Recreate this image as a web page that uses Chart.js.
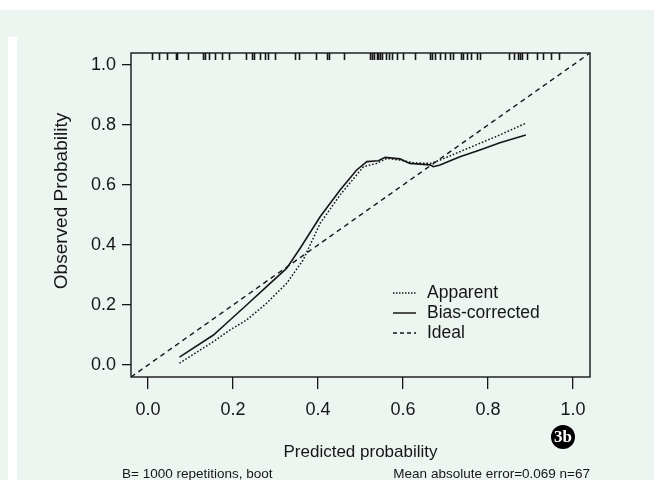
<!DOCTYPE html>
<html>
<head>
<meta charset="utf-8">
<script src="https://cdn.jsdelivr.net/npm/chart.js@4.4.1/dist/chart.umd.min.js"></script>
<style>
  html, body { margin: 0; padding: 0; }
  body { width: 654px; height: 480px; background: #edf5f0; position: relative; overflow: hidden; }
  #topStrip { position: absolute; left: 0; top: 0; width: 654px; height: 10px; background: #fff; }
  #sideStrip { position: absolute; left: 8px; top: 37px; width: 9px; height: 443px; background: #fff; }
  #wrap { position: absolute; left: 0; top: 0; width: 654px; height: 480px; }
</style>
</head>
<body>
<div id="topStrip"></div>
<div id="sideStrip"></div>
<div id="wrap"><canvas id="calib" width="654" height="480"></canvas></div>
<script>
// calibration curve (bootstrap)

const apparentX = [0.074, 0.154, 0.193, 0.232, 0.279, 0.326, 0.365, 0.405, 0.452, 0.507, 0.538, 0.562, 0.593, 0.624, 0.664, 0.687, 0.734, 0.781, 0.828, 0.889];
const apparentY = [0.006, 0.078, 0.117, 0.150, 0.206, 0.272, 0.350, 0.472, 0.567, 0.661, 0.672, 0.689, 0.683, 0.674, 0.672, 0.683, 0.711, 0.739, 0.767, 0.806];

const biasX = [0.074, 0.154, 0.193, 0.232, 0.279, 0.326, 0.358, 0.405, 0.452, 0.491, 0.515, 0.542, 0.558, 0.593, 0.616, 0.664, 0.671, 0.687, 0.734, 0.781, 0.828, 0.889];
const biasY = [0.026, 0.100, 0.150, 0.200, 0.261, 0.322, 0.389, 0.494, 0.583, 0.650, 0.678, 0.681, 0.692, 0.687, 0.672, 0.667, 0.661, 0.667, 0.694, 0.717, 0.741, 0.767];

const idealX = [-0.04, 1.04];
const idealY = [-0.04, 1.04];

// predicted probabilities shown as rug marks on top
const rugValues = [0.009, 0.026, 0.044, 0.066, 0.068, 0.095, 0.130, 0.135, 0.144, 0.158, 0.174, 0.191,
  0.230, 0.245, 0.249, 0.264, 0.275, 0.283, 0.299, 0.347, 0.355, 0.395, 0.422, 0.425, 0.462,
  0.522, 0.526, 0.532, 0.538, 0.542, 0.547, 0.551, 0.560, 0.568, 0.573, 0.585, 0.601, 0.628,
  0.664, 0.669, 0.675, 0.687, 0.699, 0.711, 0.718, 0.736, 0.740, 0.750, 0.759, 0.773, 0.781,
  0.850, 0.860, 0.871, 0.876, 0.881, 0.891, 0.915, 0.930, 0.948, 0.967];

const xTickValues = [0, 0.2, 0.4, 0.6, 0.8, 1.0];
const yTickValues = [0, 0.2, 0.4, 0.6, 0.8, 1.0];

const ink = "#161616";
const fontFam = "'Liberation Sans', Arial, sans-serif";

const toPoints = (xs, ys) => xs.map((x, i) => ({ x: x, y: ys[i] }));

// extra R-style bits: frame, rug, titles, legend, footer
const rExtras = {
  id: "rExtras",
  afterDraw(chart) {
    const { ctx, chartArea: a, scales } = chart;
    ctx.save();
    ctx.strokeStyle = ink;
    ctx.lineWidth = 1.4;
    ctx.strokeRect(a.left, a.top, a.right - a.left, a.bottom - a.top);

    // rug
    ctx.lineWidth = 1.6;
    ctx.beginPath();
    rugValues.forEach(v => {
      const px = Math.round(scales.x.getPixelForValue(v)) + 0.5;
      ctx.moveTo(px, a.top);
      ctx.lineTo(px, a.top + 7);
    });
    ctx.stroke();

    // axis titles
    ctx.fillStyle = ink;
    ctx.textAlign = "center";
    ctx.textBaseline = "middle";
    ctx.font = "17px " + fontFam;
    ctx.fillText("Predicted probability", (a.left + a.right) / 2, 452);
    ctx.save();
    ctx.translate(62, 201);
    ctx.rotate(-Math.PI / 2);
    ctx.font = "19px " + fontFam;
    ctx.fillText("Observed Probability", 0, 0);
    ctx.restore();

    // legend
    const order = [1, 2, 0];
    ctx.font = "17.5px " + fontFam;
    ctx.textAlign = "left";
    order.forEach((di, i) => {
      const ds = chart.data.datasets[di];
      const y = 293 + i * 20;
      ctx.save();
      ctx.lineWidth = 1.5;
      ctx.setLineDash(ds.legendDash);
      ctx.beginPath();
      ctx.moveTo(393, y);
      ctx.lineTo(416, y);
      ctx.stroke();
      ctx.restore();
      ctx.fillText(ds.label, 427, y);
    });

    // footer
    ctx.font = "13.5px " + fontFam;
    ctx.textBaseline = "alphabetic";
    ctx.fillText("B= 1000 repetitions, boot", 122, 478);
    ctx.textAlign = "right";
    ctx.fillText("Mean absolute error=0.069 n=67", 590, 478);

    // figure badge
    ctx.beginPath();
    ctx.arc(563, 437, 12, 0, Math.PI * 2);
    ctx.fillStyle = "#000";
    ctx.fill();
    ctx.fillStyle = "#fff";
    ctx.textAlign = "center";
    ctx.textBaseline = "middle";
    ctx.font = "bold 17px 'Liberation Serif', serif";
    ctx.fillText("3b", 563, 438);
    ctx.restore();
  }
};

new Chart(document.getElementById("calib").getContext("2d"), {
  type: "scatter",
  data: {
    datasets: [
      {
        label: "Ideal",
        data: toPoints(idealX, idealY),
        showLine: true,
        borderColor: ink,
        borderWidth: 1.4,
        borderDash: [5, 4],
        legendDash: [4, 3],
        pointRadius: 0
      },
      {
        label: "Apparent",
        data: toPoints(apparentX, apparentY),
        showLine: true,
        borderColor: ink,
        borderWidth: 1.5,
        borderDash: [1.6, 1.9],
        legendDash: [1.5, 1.5],
        pointRadius: 0
      },
      {
        label: "Bias-corrected",
        data: toPoints(biasX, biasY),
        showLine: true,
        borderColor: ink,
        borderWidth: 1.6,
        legendDash: [],
        pointRadius: 0
      }
    ]
  },
  options: {
    responsive: false,
    animation: false,
    layout: { padding: { left: 0, top: 53, right: 64, bottom: 0 } },
    plugins: {
      legend: { display: false },
      tooltip: { enabled: false }
    },
    scales: {
      x: {
        type: "linear",
        min: -0.04,
        max: 1.04,
        afterFit: s => { s.height = 103; },
        afterBuildTicks: s => { s.ticks = xTickValues.map(v => ({ value: v })); },
        grid: { drawOnChartArea: false, drawTicks: true, tickLength: 12, color: ink, lineWidth: 1.3 },
        border: { display: false },
        ticks: {
          color: ink,
          padding: 10,
          maxRotation: 0,
          font: { family: fontFam, size: 18 },
          callback: v => v.toFixed(1)
        }
      },
      y: {
        type: "linear",
        min: -0.04,
        max: 1.04,
        afterFit: s => { s.width = 131; },
        afterBuildTicks: s => { s.ticks = yTickValues.map(v => ({ value: v })); },
        grid: { drawOnChartArea: false, drawTicks: true, tickLength: 9, color: ink, lineWidth: 1.3 },
        border: { display: false },
        ticks: {
          color: ink,
          padding: 6,
          font: { family: fontFam, size: 18 },
          callback: v => v.toFixed(1)
        }
      }
    }
  },
  plugins: [rExtras]
});
</script>
</body>
</html>
